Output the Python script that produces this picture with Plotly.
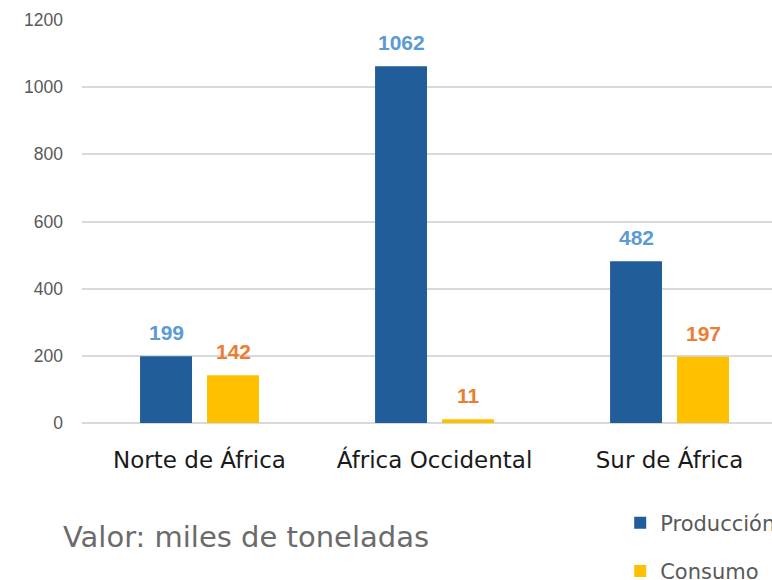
import plotly.graph_objects as go

# datos
regiones = ["Norte de África", "África Occidental", "Sur de África"]
produccion = [199, 1062, 482]
consumo = [142, 11, 197]

AZUL = "#215E99"
AMARILLO = "#FFC000"
AZUL_TXT = "#5B9BD5"
NARANJA_TXT = "#ED7D31"

fig = go.Figure()

fig.add_trace(go.Bar(
    x=regiones, y=produccion, name="Producción",
    marker=dict(color=AZUL, line=dict(width=0)),
    width=0.221, offset=-0.253, legendgroup="p",
))
fig.add_trace(go.Bar(
    x=regiones, y=consumo, name="Consumo",
    marker=dict(color=AMARILLO, line=dict(width=0)),
    width=0.221, offset=0.032, legendgroup="c",
))

# etiquetas de datos
for serie, color, shift in [(produccion, AZUL_TXT, -33.5), (consumo, NARANJA_TXT, 33.5)]:
    for reg, val in zip(regiones, serie):
        fig.add_annotation(
            x=reg, y=val, xref="x", yref="y", text=f"<b>{val}</b>",
            showarrow=False, xshift=shift, yshift=10, yanchor="bottom",
            font=dict(family="Liberation Sans, Arial", size=21, color=color),
        )

fig.add_annotation(
    x=-0.03, y=-0.283, xref="paper", yref="paper",
    text="Valor: miles de toneladas", showarrow=False,
    xanchor="left", yanchor="middle",
    font=dict(family="DejaVu Sans", size=29, color="#6B6B6B"),
)

fig.update_layout(
    width=772, height=580,
    margin=dict(l=82, r=0, t=20, b=157, autoexpand=False),
    plot_bgcolor="white", paper_bgcolor="white",
    barmode="overlay",
    showlegend=True,
    legend=dict(
        x=0.78, y=-0.1975, xanchor="left", yanchor="top",
        font=dict(family="DejaVu Sans", size=21, color="#595959"),
        tracegroupgap=18, bgcolor="rgba(0,0,0,0)",
    ),
)

fig.update_xaxes(
    range=[-0.5, 2.436], showgrid=False, showline=False, ticks="",
    tickfont=dict(family="DejaVu Sans", size=23, color="#1A1A1A"),
    ticklabelstandoff=21,
)
fig.update_yaxes(
    range=[0, 1200], dtick=200, showgrid=True, gridcolor="#D9D9D9", gridwidth=2,
    zeroline=True, zerolinecolor="#D9D9D9", zerolinewidth=2, showline=False,
    tickfont=dict(family="Liberation Sans, Arial", size=17.5, color="#595959"),
    ticklabelstandoff=18,
)

# sin el margen por defecto del body, la figura ocupa toda la ventana
fig.write_html(
    "out.html",
    config={"displayModeBar": False},
    post_script="document.body.style.margin='0';document.body.style.overflow='hidden';",
)
